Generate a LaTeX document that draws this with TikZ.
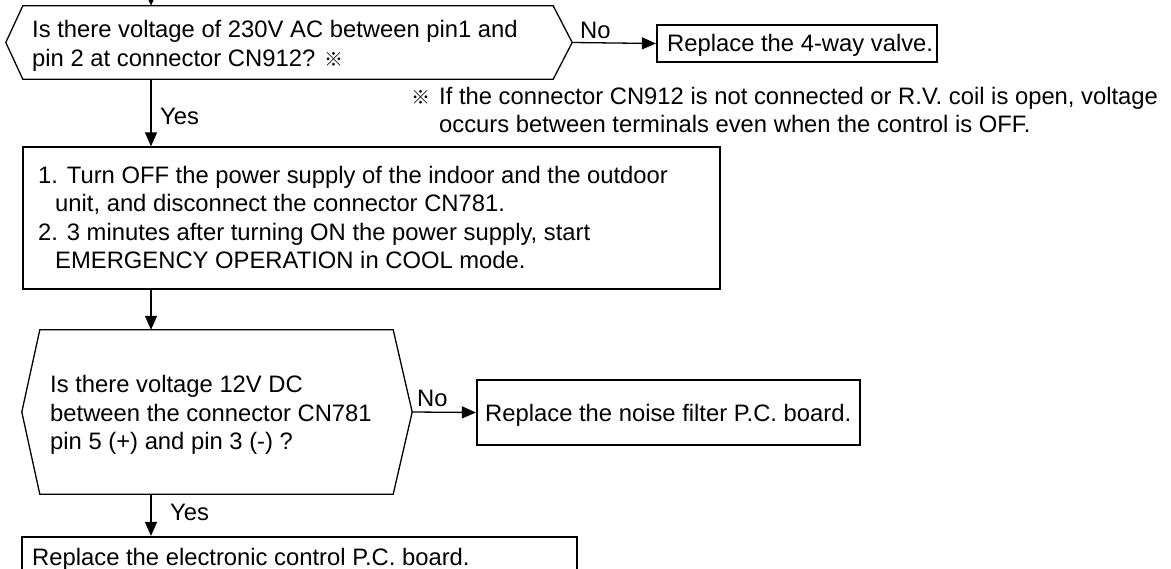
\documentclass[tikz,border=0pt]{standalone}
\usepackage{fontspec}
\setmainfont{Liberation Sans}
\newfontfamily\cjk{Noto Sans CJK JP}
\usetikzlibrary{arrows.meta}

\newcommand{\refmark}{{\cjk\fontsize{19}{19}\selectfont ※}}

\tikzset{
  txt/.style={inner sep=0pt, anchor=base west, font=\fontsize{23.8}{28.5}\selectfont},
  hexbody/.style={inner sep=0pt},
  hexline/.style={line width=1.3pt, line join=miter},
  actbox/.style={draw, line width=1.3pt, inner sep=0pt},
  fixbox/.style={draw, line width=2.2pt, inner sep=0pt},
  arr/.style={line width=1.3pt, -{Triangle[length=14pt,width=12pt]}}
}

\begin{document}
\begin{tikzpicture}[x=1pt, y=-1pt]
  \clip (0,0) rectangle (1171,569);
  \coordinate (spine) at (151,0);
  \coordinate (entry) at (151,-5);

  % first check
  \node[hexbody, minimum width=530pt, minimum height=73pt] (h1) at (288,42.5) {};
  \coordinate (h1tip) at ([xshift=19pt]h1.east);
  \draw[hexline] (h1.north west) -- (h1.north east) -- (h1tip) -- (h1.south east)
    -- (h1.south west) -- ([xshift=-17pt]h1.west) -- cycle;
  \node[txt] (q1a) at (32,37.5) {Is there voltage of 230V AC between pin1 and};
  \node[txt] (q1b) at (32,66.5) {pin 2 at connector CN912? \refmark};

  \node[fixbox, minimum width=280pt, minimum height=37pt] (valve) at (797,43.5) {};
  \node[txt] (valvet) at (667,52) {Replace the 4-way valve.};

  % note
  \node[txt] (note1) at (411,104.5) {\makebox[28pt][l]{\refmark}If the connector CN912 is not connected or R.V. coil is open, voltage};
  \node[txt] (note2) at (439,132.5) {occurs between terminals even when the control is OFF.};

  % procedure
  \node[actbox, minimum width=697pt, minimum height=142pt] (act) at (371.5,218) {};
  \node[txt] (act1) at (38,183.5) {1. Turn OFF the power supply of the indoor and the outdoor};
  \node[txt] (act2) at (55,212) {unit, and disconnect the connector CN781.};
  \node[txt] (act3) at (38,240.5) {2. 3 minutes after turning ON the power supply, start};
  \node[txt] (act4) at (55,269) {EMERGENCY OPERATION in COOL mode.};

  % second check
  \node[hexbody, minimum width=353pt, minimum height=164pt] (h2) at (216.5,412) {};
  \coordinate (h2tip) at ([xshift=19pt]h2.east);
  \draw[hexline] (h2.north west) -- (h2.north east) -- (h2tip) -- (h2.south east)
    -- (h2.south west) -- ([xshift=-18pt]h2.west) -- cycle;
  \node[txt] (q2a) at (50,392.5) {Is there voltage 12V DC};
  \node[txt] (q2b) at (50,421) {between the connector CN781};
  \node[txt] (q2c) at (50,449.5) {pin 5 (+) and pin 3 (-) ?};

  \node[fixbox, minimum width=383pt, minimum height=65pt] (noise) at (668.5,412.5) {};
  \node[txt] (noiset) at (485,421) {Replace the noise filter P.C. board.};

  \node[fixbox, minimum width=555pt, minimum height=63pt] (fin) at (299.5,568.5) {};
  \node[txt] (fint) at (32,565) {Replace the electronic control P.C. board.};

  % connectors
  \draw[arr] (entry) -- (h1.north -| spine);
  \draw[arr] (h1.south -| spine) -- (act.north -| spine);
  \node[txt] (yes1) at (160,124.5) {Yes};
  \draw[arr] (h1tip) -- (valve.west);
  \node[txt] (no1) at (580,38.5) {No};
  \draw[arr] (act.south -| spine) -- (h2.north -| spine);
  \draw[arr] (h2tip) -- (noise.west);
  \node[txt] (no2) at (417,407) {No};
  \draw[arr] (h2.south -| spine) -- (fin.north -| spine);
  \node[txt] (yes2) at (170,520) {Yes};
\end{tikzpicture}
\end{document}
